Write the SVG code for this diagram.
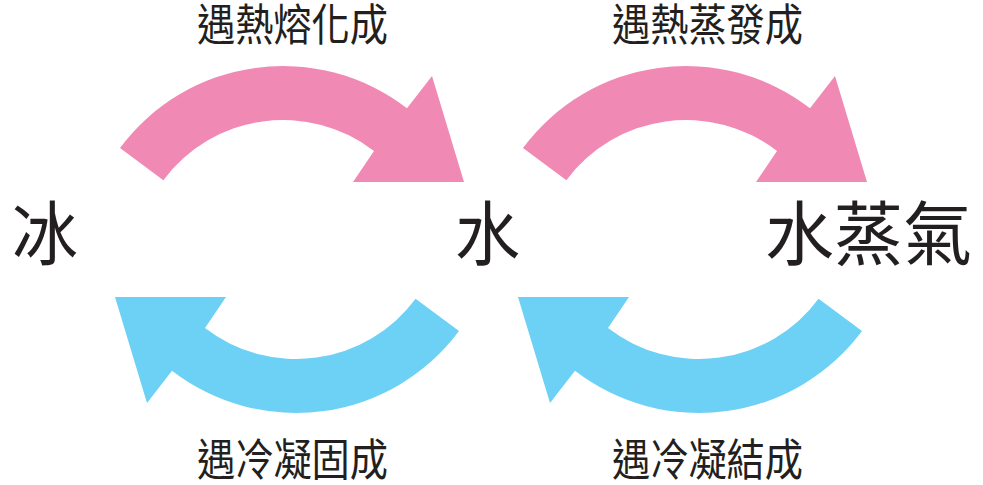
<svg xmlns="http://www.w3.org/2000/svg" xmlns:xlink="http://www.w3.org/1999/xlink" width="983" height="485" viewBox="0 0 983 485">
  <style>
    .lbl { font-family: "Noto Sans CJK TC", "Noto Sans CJK SC", sans-serif; font-size: 44px; fill: #231F20; }
    .node { font-family: "Noto Sans CJK TC", "Noto Sans CJK SC", sans-serif; font-size: 70px; fill: #231F20; }
    .pink { fill: #F189B5; }
    .blue { fill: #6DD0F5; }
  </style>
  <defs>
    <path id="arc" d="M 120,148 A 203 203 0 0 1 407,108.3 L 432,76 L 464,182 L 353,182 L 374,151 A 149 149 0 0 0 163.4,180.2 Z"/>
  </defs>
  <rect width="983" height="485" fill="#FFFFFF"/>
  <g id="connectors">
    <use xlink:href="#arc" class="pink"/>
    <use xlink:href="#arc" class="pink" transform="translate(403,0)"/>
    <use xlink:href="#arc" class="blue" transform="rotate(180 289.5 239.5)"/>
    <use xlink:href="#arc" class="blue" transform="translate(403,0) rotate(180 289.5 239.5)"/>
  </g>
  <g id="labels">
    <text class="lbl" x="197" y="41" textLength="191" lengthAdjust="spacingAndGlyphs">遇熱熔化成</text>
    <text class="lbl" x="612" y="41" textLength="191" lengthAdjust="spacingAndGlyphs">遇熱蒸發成</text>
    <text class="lbl" x="197" y="476" textLength="191" lengthAdjust="spacingAndGlyphs">遇冷凝固成</text>
    <text class="lbl" x="612" y="476" textLength="191" lengthAdjust="spacingAndGlyphs">遇冷凝結成</text>
  </g>
  <g id="node-ice">
    <text class="node" x="12" y="260" textLength="66" lengthAdjust="spacingAndGlyphs">冰</text>
  </g>
  <g id="node-water">
    <text class="node" x="455" y="260" textLength="65" lengthAdjust="spacingAndGlyphs">水</text>
  </g>
  <g id="node-steam">
    <text class="node" x="765" y="260" textLength="207" lengthAdjust="spacingAndGlyphs">水蒸氣</text>
  </g>
</svg>
